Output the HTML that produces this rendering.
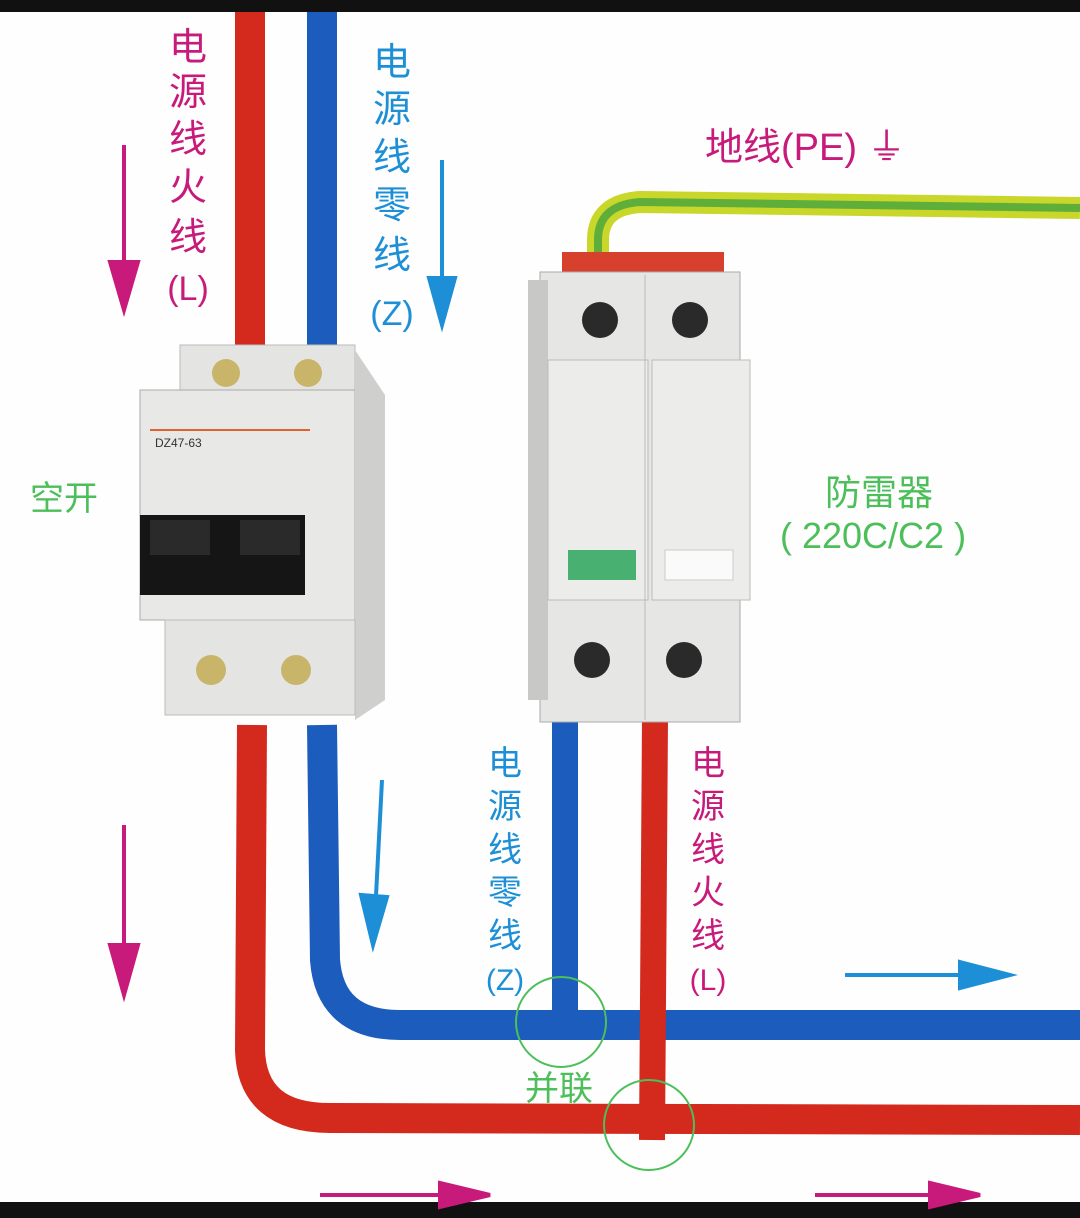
<!DOCTYPE html>
<html><head><meta charset="utf-8"><style>
body{margin:0;background:#fff;width:1080px;height:1218px;overflow:hidden;}
svg{display:block}
text{font-family:"Liberation Sans","Noto Sans CJK SC",sans-serif;}
</style></head><body>
<svg width="1080" height="1218" viewBox="0 0 1080 1218" xmlns="http://www.w3.org/2000/svg">
<rect width="1080" height="1218" fill="#fefefe"/>
<rect width="1080" height="12" fill="#111"/>
<rect y="1202" width="1080" height="16" fill="#111"/>
<path d="M598 255 L598 240 Q598 205 640 202 L1080 208" fill="none" stroke="#c9d62a" stroke-width="22"/>
<path d="M598 255 L598 240 Q598 205 640 202 L1080 208" fill="none" stroke="#5fae3a" stroke-width="8"/>
<path d="M250 12 L250 345 M252 725 L250 1050 Q252 1118 330 1118 L1080 1120" fill="none" stroke="#d42a1e" stroke-width="30"/>
<path d="M322 12 L322 345 M322 725 L325 960 Q330 1025 400 1025 L1080 1025" fill="none" stroke="#1c5cbc" stroke-width="30"/>
<path d="M565 720 L565 1030" stroke="#1c5cbc" stroke-width="26"/>
<path d="M655 720 L652 1140" stroke="#d42a1e" stroke-width="26"/>
<rect x="180" y="345" width="175" height="50" fill="#e4e4e2" stroke="#bbb"/>
<rect x="140" y="390" width="215" height="230" fill="#e8e8e6" stroke="#aaa"/>
<polygon points="355,350 385,395 385,700 355,720" fill="#cfcfcd"/>
<rect x="165" y="620" width="190" height="95" fill="#e4e4e2" stroke="#bbb"/>
<rect x="140" y="515" width="165" height="80" fill="#151515"/>
<rect x="150" y="520" width="60" height="35" fill="#2a2a2a"/><rect x="240" y="520" width="60" height="35" fill="#2a2a2a"/>
<line x1="150" y1="430" x2="310" y2="430" stroke="#e06030" stroke-width="2"/>
<text x="155" y="447" font-size="12" fill="#333">DZ47-63</text>
<circle cx="226" cy="373" r="14" fill="#c9b56a"/><circle cx="308" cy="373" r="14" fill="#c9b56a"/>
<circle cx="211" cy="670" r="15" fill="#c9b56a"/><circle cx="296" cy="670" r="15" fill="#c9b56a"/>
<rect x="562" y="252" width="162" height="22" fill="#d8402e"/>
<rect x="540" y="272" width="200" height="450" fill="#e6e6e4" stroke="#aaa"/>
<rect x="528" y="280" width="20" height="420" fill="#c8c8c6"/>
<rect x="548" y="360" width="100" height="240" fill="#ececea" stroke="#bbb"/>
<rect x="652" y="360" width="98" height="240" fill="#ececea" stroke="#bbb"/>
<rect x="568" y="550" width="68" height="30" fill="#48b070"/>
<rect x="665" y="550" width="68" height="30" fill="#fafafa" stroke="#ccc"/>
<line x1="645" y1="275" x2="645" y2="720" stroke="#bbb"/>
<circle cx="600" cy="320" r="18" fill="#2a2a2a"/><circle cx="690" cy="320" r="18" fill="#2a2a2a"/>
<circle cx="592" cy="660" r="18" fill="#2a2a2a"/><circle cx="684" cy="660" r="18" fill="#2a2a2a"/>
<circle cx="561" cy="1022" r="45" fill="none" stroke="#4cbf5a" stroke-width="2"/>
<circle cx="649" cy="1125" r="45" fill="none" stroke="#4cbf5a" stroke-width="2"/>
<g stroke="#c81a7a" stroke-width="4" fill="#c81a7a">
<line x1="124" y1="145" x2="124" y2="290"/><polygon points="110,262 124,310 138,262"/>
<line x1="124" y1="825" x2="124" y2="970"/><polygon points="110,945 124,995 138,945"/>
<line x1="320" y1="1195" x2="460" y2="1195"/><polygon points="440,1183 490,1195 440,1207"/>
<line x1="815" y1="1195" x2="950" y2="1195"/><polygon points="930,1183 980,1195 930,1207"/>
</g>
<g stroke="#1d8fd6" stroke-width="4" fill="#1d8fd6">
<line x1="442" y1="160" x2="442" y2="300"/><polygon points="429,278 442,325 455,278"/>
<line x1="382" y1="780" x2="375" y2="915"/><polygon points="361,895 373,945 387,897"/>
<line x1="845" y1="975" x2="980" y2="975"/><polygon points="960,962 1010,975 960,988"/>
</g>
<g font-size="38" fill="#c81a7a" text-anchor="middle">
<text x="188" y="60">电</text><text x="188" y="105">源</text><text x="188" y="152">线</text><text x="188" y="200">火</text><text x="188" y="250">线</text>
<text x="188" y="300" font-size="34">(L)</text>
<text x="708" y="775" font-size="34">电</text><text x="708" y="818" font-size="34">源</text><text x="708" y="861" font-size="34">线</text><text x="708" y="904" font-size="34">火</text><text x="708" y="947" font-size="34">线</text><text x="708" y="990" font-size="30">(L)</text>
</g>
<text x="705" y="160" font-size="38" fill="#c81a7a">地线(PE) ⏚</text>
<g font-size="38" fill="#1d8fd6" text-anchor="middle">
<text x="392" y="75">电</text><text x="392" y="122">源</text><text x="392" y="170">线</text><text x="392" y="218">零</text><text x="392" y="268">线</text><text x="392" y="325" font-size="34">(Z)</text>
<text x="505" y="775" font-size="34">电</text><text x="505" y="818" font-size="34">源</text><text x="505" y="861" font-size="34">线</text><text x="505" y="904" font-size="34">零</text><text x="505" y="947" font-size="34">线</text><text x="505" y="990" font-size="30">(Z)</text>
</g>
<g fill="#4cbf5a">
<text x="30" y="510" font-size="34">空开</text>
<text x="825" y="505" font-size="36">防雷器</text>
<text x="780" y="548" font-size="36">( 220C/C2 )</text>
<text x="525" y="1100" font-size="34">并联</text>
</g>
</svg>
</body></html>
